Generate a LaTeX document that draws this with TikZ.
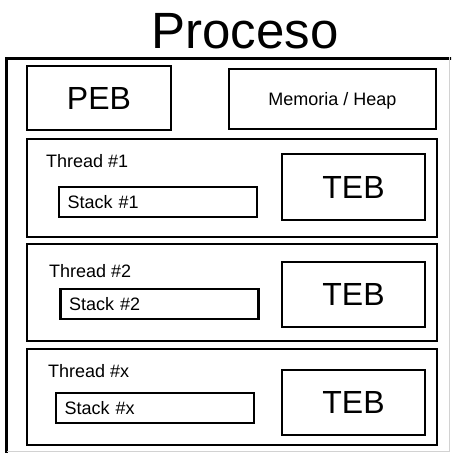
\documentclass[tikz,border=0pt]{standalone}
\usepackage{fontspec}
\setmainfont{Liberation Sans}

\begin{document}
\begin{tikzpicture}[x=1pt, y=-1pt,
        caja/.style={draw, line width=2.6pt, inner sep=0pt},
        pila/.style={caja, minimum height=30pt, text width=181pt, inner xsep=8.5pt, align=left, font=\fontsize{18}{20}\selectfont},
        grande/.style={font=\fontsize{32}{36}\selectfont},
        chico/.style={inner sep=0pt, font=\fontsize{18}{20}\selectfont}]
        \useasboundingbox (0,0) rectangle (451,453);
        \node[font=\fontsize{51}{56}\selectfont, anchor=base] (titulo) at (245,48) {Proceso};
        \begin{scope}
        \clip (0,0) rectangle (451,453);
        \node[caja, minimum width=454pt, minimum height=404pt, anchor=north west] (proceso) at (5,57) {};
        \end{scope}
        \draw[gray!35, line width=1pt] (449,57) -- (449,451) -- (7,451);
        \node[caja, minimum width=144pt, minimum height=64pt, grande] (peb) at (99,98) {PEB};
        \node[caja, minimum width=207pt, minimum height=60pt, font=\fontsize{18}{20}\selectfont, text depth=0pt] (heap) at (332.5,99) {Memoria / Heap};
        % hilo 1
        \node[caja, minimum width=410pt, minimum height=98pt] (hilo1) at (232,188) {};
        \node[chico, anchor=base west] (nombre1) at (46,167) {Thread \#1};
        \node[pila] (pila1) at (158,202) {Stack \#1};
        \node[caja, minimum width=143pt, minimum height=66pt, grande] (teb1) at (353.5,187) {TEB};
        % hilo 2
        \node[caja, minimum width=410pt, minimum height=97pt] (hilo2) at (232,292.5) {};
        \node[chico, anchor=base west] (nombre2) at (49,277) {Thread \#2};
        \node[pila] (pila2) at (159.5,304) {Stack \#2};
        \node[caja, minimum width=143pt, minimum height=65pt, grande] (teb2) at (353.5,294.5) {TEB};
        % hilo x
        \node[caja, minimum width=410pt, minimum height=96pt] (hilox) at (232,397) {};
        \node[chico, anchor=base west] (nombrex) at (48,377) {Thread \#x};
        \node[pila] (pilax) at (155,408) {Stack \#x};
        \node[caja, minimum width=143pt, minimum height=65pt, grande] (tebx) at (353.5,402.5) {TEB};
\end{tikzpicture}
\end{document}
